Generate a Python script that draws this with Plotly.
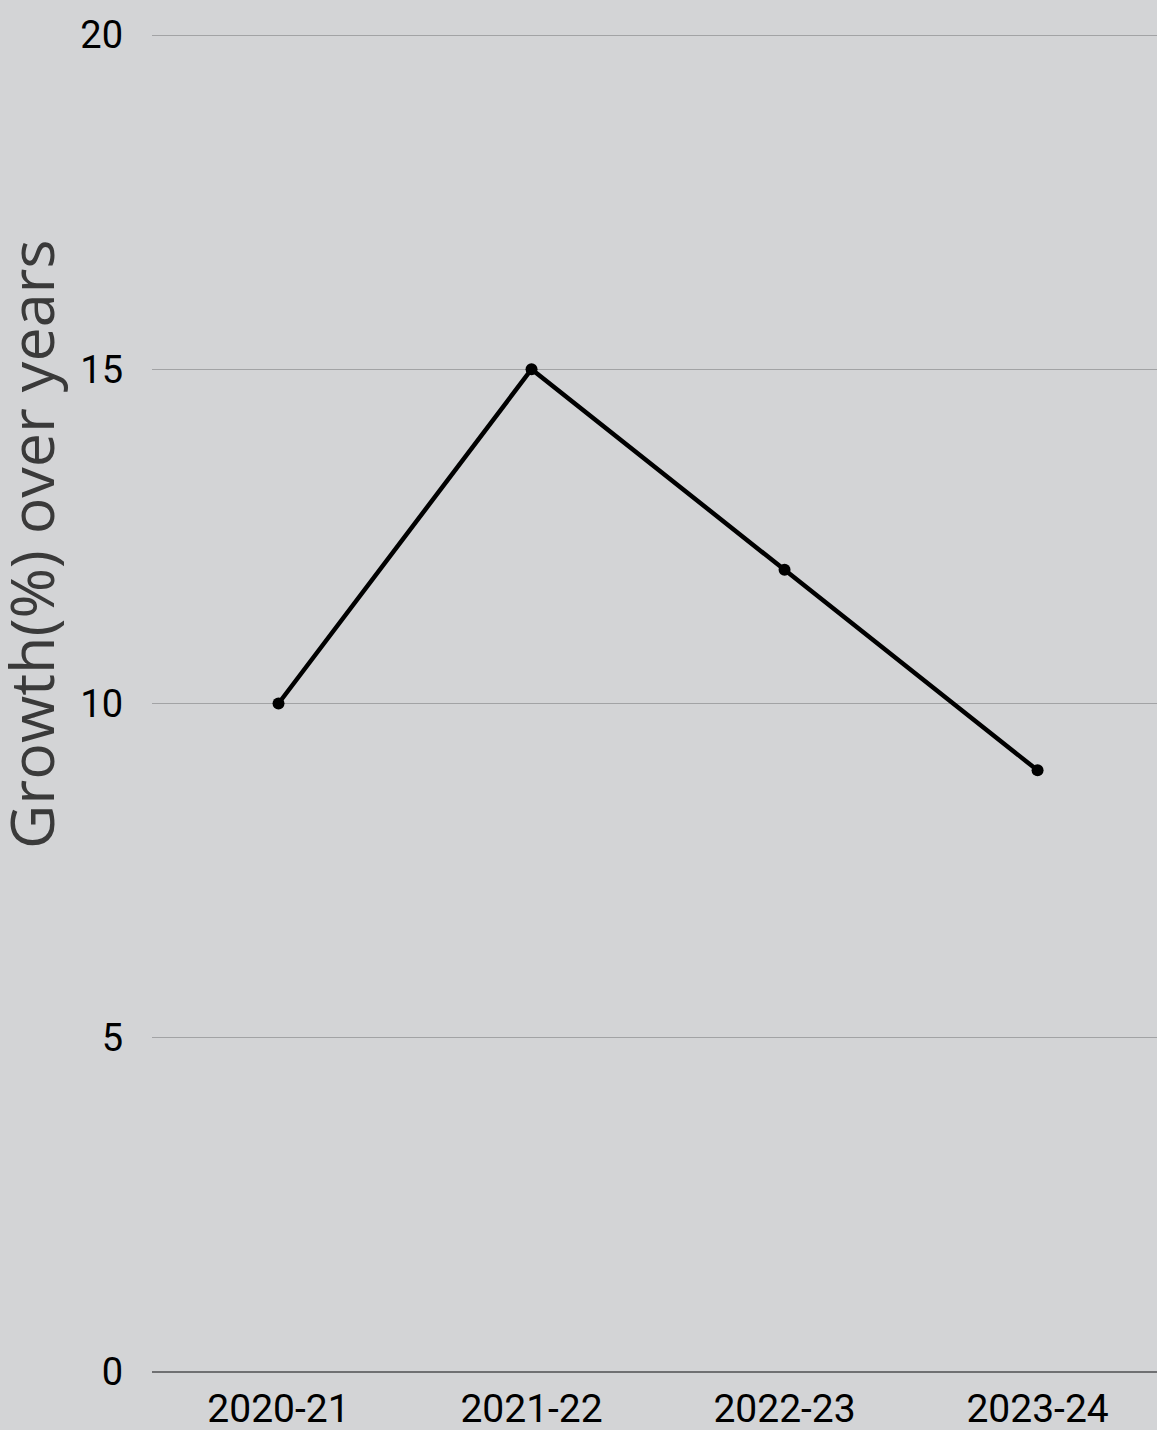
import plotly.graph_objects as go

# Growth per financial year
years = ["2020-21", "2021-22", "2022-23", "2023-24"]
growth = [10, 15, 12, 9]
y_ticks = [0, 5, 10, 15, 20]

BG = "#d3d4d6"
Y_TOP = 20.03  # a hair above 20 so the top gridline is drawn

fig = go.Figure(
    go.Scatter(
        x=years,
        y=growth,
        mode="lines+markers",
        line=dict(color="#000000", width=4.5),
        marker=dict(color="#000000", size=12),
        showlegend=False,
    )
)

plot_h = 1337 * Y_TOP / 20
fig.update_layout(
    width=1157,
    height=1430,
    margin=dict(l=152, r=0, t=1372 - plot_h, b=58),
    paper_bgcolor=BG,
    plot_bgcolor=BG,
    font=dict(family="Roboto", color="#000000", size=40),
)

fig.update_xaxes(
    type="category",
    range=[-0.5, 3.472],
    showgrid=False,
    showline=False,
    zeroline=False,
    ticks="",
    automargin=False,
    ticklabelstandoff=10,
    tickfont=dict(family="Roboto", size=39, color="#000000"),
)

fig.update_yaxes(
    range=[0, Y_TOP],
    tickvals=y_ticks,
    showgrid=True,
    gridcolor="#a2a3a5",
    gridwidth=1,
    zeroline=True,
    zerolinecolor="#6f7072",
    zerolinewidth=2,
    showline=False,
    ticks="",
    automargin=False,
    ticklabelstandoff=28,
    tickfont=dict(family="Roboto", size=38, color="#000000"),
)

# Axis title placed as a rotated annotation
fig.add_annotation(
    text="Growth(%) over years",
    textangle=-90,
    xref="paper",
    yref="paper",
    x=-122 / 1005,
    y=(1372 - 544) / plot_h,
    xanchor="center",
    yanchor="middle",
    showarrow=False,
    font=dict(family="Open Sans", size=61, color="#3a3a3a"),
)

fig.write_html("out.html")
